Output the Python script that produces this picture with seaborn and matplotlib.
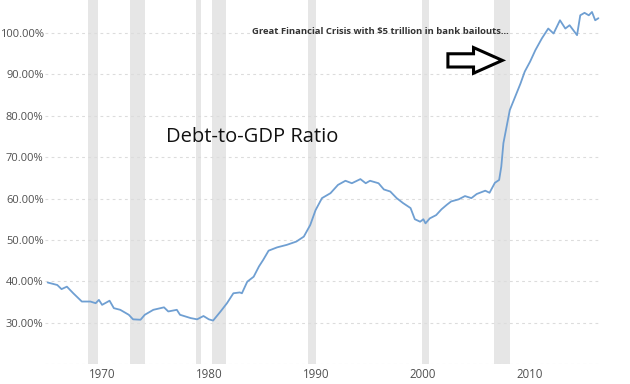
import numpy as np
import pandas as pd
import matplotlib.pyplot as plt
from matplotlib.patches import FancyArrow
import seaborn as sns

# debt-to-gdp ratio (year, percent)
years = [1966.1, 1967.0, 1967.4, 1967.9, 1968.5, 1969.3, 1970.1, 1970.6, 1970.9,
         1971.2, 1971.9, 1972.3, 1972.9, 1973.7, 1974.1, 1974.8, 1975.2, 1976.0,
         1977.0, 1977.4, 1978.2, 1978.5, 1979.5, 1980.1, 1980.7, 1981.2, 1981.6,
         1982.3, 1982.9, 1983.5, 1984.1, 1984.3, 1984.8, 1985.4, 1985.9, 1986.3,
         1986.8, 1987.6, 1988.5, 1989.4, 1990.1, 1990.7, 1991.2, 1991.8, 1992.6,
         1993.3, 1994.0, 1994.6, 1995.4, 1995.9, 1996.3, 1997.1, 1997.6, 1998.2,
         1998.8, 1999.4, 2000.1, 2000.5, 2001.0, 2001.3, 2001.5, 2001.9, 2002.5,
         2003.0, 2003.5, 2003.9, 2004.6, 2005.2, 2005.8, 2006.3, 2007.1, 2007.5,
         2008.0, 2008.4, 2008.6, 2008.8, 2009.1, 2009.4, 2009.9, 2010.4, 2010.8,
         2011.3, 2011.8, 2012.4, 2013.0, 2013.5, 2014.1, 2014.6, 2015.0, 2015.7,
         2016.0, 2016.4, 2016.8, 2017.1, 2017.4, 2017.7]
ratio = [39.7, 39.1, 38.1, 38.7, 37.1, 35.1, 35.1, 34.7, 35.5,
         34.3, 35.3, 33.5, 33.1, 31.9, 30.8, 30.7, 31.9, 33.1,
         33.7, 32.7, 33.1, 31.9, 31.1, 30.8, 31.6, 30.8, 30.5,
         32.7, 34.7, 37.1, 37.3, 37.1, 39.9, 41.1, 43.6, 45.2,
         47.4, 48.2, 48.8, 49.6, 50.8, 53.6, 57.2, 60.1, 61.3,
         63.3, 64.3, 63.7, 64.7, 63.7, 64.3, 63.7, 62.2, 61.7,
         60.1, 58.9, 57.7, 55.0, 54.4, 55.0, 54.0, 55.2, 56.0,
         57.4, 58.5, 59.3, 59.8, 60.6, 60.1, 61.1, 61.9, 61.4,
         63.8, 64.5, 67.7, 73.4, 77.4, 81.4, 84.6, 87.8, 90.7,
         93.1, 95.9, 98.7, 101.1, 99.9, 103.1, 101.1, 101.9, 99.5,
         104.3, 104.9, 104.3, 105.1, 103.1, 103.6]

# recessions (shaded)
rec_start = [1969.9, 1973.85, 1980.0, 1981.5, 1990.5, 2001.2, 2007.9]
rec_end = [1970.85, 1975.2, 1980.5, 1982.85, 1991.2, 2001.85, 2009.45]

ytick_vals = [30, 40, 50, 60, 70, 80, 90, 100]
xtick_vals = [1970, 1980, 1990, 2000, 2010]

df = pd.DataFrame({"year": years, "ratio": ratio})

sns.set_style("white")
plt.rcParams['font.family'] = ['Open Sans', 'DejaVu Sans']

fig = plt.figure(figsize=(6.3, 3.84), dpi=100)
ax = fig.add_axes([45 / 630, 20 / 384, 555 / 630, 364 / 384])

for a, b in zip(rec_start, rec_end):
    ax.axvspan(a, b, color="#e6e6e6", lw=0, zorder=0)

for v in [20] + ytick_vals:
    ax.axhline(v, color="#dcdcdc", lw=0.8, ls=(0, (2.5, 3)), zorder=1)

sns.lineplot(data=df, x="year", y="ratio", ax=ax, color="#6f9fd2", lw=1.3, zorder=3)

ax.set_xlim(1965.85, 2017.85)
ax.set_ylim(20, 108)
ax.set_yticks(ytick_vals)
ax.set_yticklabels([f"{v:.2f}%" for v in ytick_vals])
ax.set_xticks(xtick_vals)
ax.set_xticklabels([str(v) for v in xtick_vals], ha="left")
ax.tick_params(axis="both", length=0, labelcolor="#505050")
ax.tick_params(axis="y", pad=1, labelsize=8.0)
ax.tick_params(axis="x", pad=3, labelsize=8.3)
ax.set_xlabel("")
ax.set_ylabel("")
for s in ax.spines.values():
    s.set_visible(False)

ax.text(1977.2, 74.8, "Debt-to-GDP Ratio", fontsize=14.5, color="#111111",
        va="center", ha="left")
ax.text(1997.3, 100.5, "Great Financial Crisis with $5 trillion in bank bailouts...",
        fontsize=6.8, fontweight="bold", color="#333333", va="center", ha="center")

arrow = FancyArrow(2003.6, 93.4, 5.1, 0, width=3.2, head_width=6.2, head_length=2.7,
                   length_includes_head=True, facecolor="white", edgecolor="black",
                   lw=2.2, zorder=4)
ax.add_patch(arrow)

fig.savefig("out.png", dpi=100)
